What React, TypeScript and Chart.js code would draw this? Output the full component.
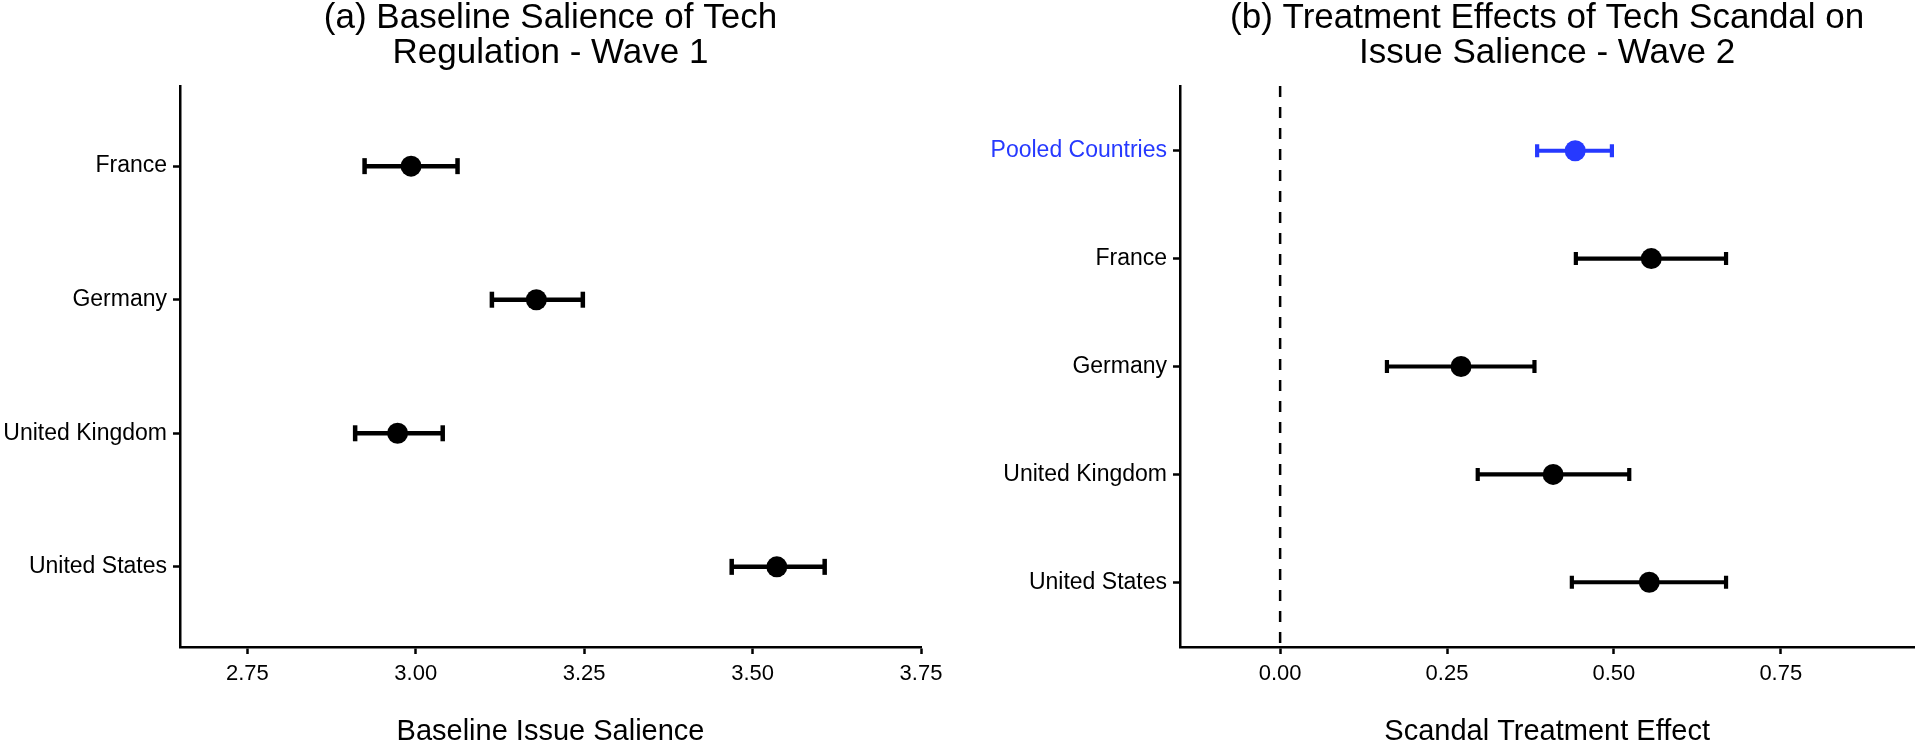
import React, { useEffect, useRef } from "react";
import { Chart, registerables } from "chart.js";

Chart.register(...registerables);

// ---------- Data ----------
const leftTitle = ["(a) Baseline Salience of Tech", "Regulation - Wave 1"];
const leftXTitle = "Baseline Issue Salience";
const leftCategories = ["France", "Germany", "United Kingdom", "United States"];
const leftEstimates = [2.993, 3.179, 2.973, 3.536];
const leftLower = [2.924, 3.113, 2.91, 3.469];
const leftUpper = [3.062, 3.248, 3.04, 3.607];
const leftXTicks = [2.75, 3.0, 3.25, 3.5, 3.75];
const leftXTickLabels = ["2.75", "3.00", "3.25", "3.50", "3.75"];
const leftXLimits = [2.65, 3.75];

const rightTitle = ["(b) Treatment Effects of Tech Scandal on", "Issue Salience - Wave 2"];
const rightXTitle = "Scandal Treatment Effect";
const rightCategories = ["Pooled Countries", "France", "Germany", "United Kingdom", "United States"];
const rightEstimates = [0.442, 0.556, 0.271, 0.409, 0.553];
const rightLower = [0.385, 0.443, 0.16, 0.296, 0.437];
const rightUpper = [0.497, 0.668, 0.381, 0.523, 0.668];
const rightXTicks = [0, 0.25, 0.5, 0.75];
const rightXTickLabels = ["0.00", "0.25", "0.50", "0.75"];
const rightXLimits = [-0.15, 0.95];
const rightHighlight = [true, false, false, false, false];
const referenceLineX = 0;

// ---------- Styles ----------
const BLACK = "#000000";
const BLUE = "#2639FF";
const FONT = "'Liberation Sans', Arial, Helvetica, sans-serif";

type PanelSpec = {
  title: string[];
  xTitle: string;
  categories: string[];
  est: number[];
  lo: number[];
  hi: number[];
  xTicks: number[];
  xTickLabels: string[];
  xLim: number[];
  highlight: boolean[];
  refLine: number | null;
  yAxisWidth: number;
  padRight: number;
  capRadius: number;
  barWidth: number;
  pointRadius: number;
};

function makeConfig(p: PanelSpec): any {
  const n = p.categories.length;
  const yMin = -0.6;
  const yMax = n - 1 + 0.6;
  const colorOf = (i: number) => (p.highlight[i] ? BLUE : BLACK);

  const datasets: any[] = [];
  // points on top
  datasets.push({
    type: "scatter",
    data: p.est.map((x, i) => ({ x, y: i })),
    pointRadius: p.pointRadius,
    pointHoverRadius: p.pointRadius,
    pointBackgroundColor: p.est.map((_, i) => colorOf(i)),
    pointBorderColor: p.est.map((_, i) => colorOf(i)),
    pointBorderWidth: 0,
    order: 0,
  });
  // error bars
  p.est.forEach((_, i) => {
    datasets.push({
      type: "scatter",
      data: [
        { x: p.lo[i], y: i },
        { x: p.hi[i], y: i },
      ],
      showLine: true,
      borderColor: colorOf(i),
      borderWidth: p.barWidth,
      pointStyle: "line",
      rotation: 90,
      pointRadius: p.capRadius,
      pointHoverRadius: p.capRadius,
      pointBorderColor: colorOf(i),
      pointBorderWidth: p.barWidth,
      order: 1,
    });
  });
  if (p.refLine !== null) {
    datasets.push({
      type: "scatter",
      data: [
        { x: p.refLine, y: yMin },
        { x: p.refLine, y: yMax },
      ],
      showLine: true,
      borderColor: BLACK,
      borderWidth: 2.5,
      borderDash: [11, 10],
      pointRadius: 0,
      order: 2,
    });
  }

  return {
    type: "scatter",
    data: { datasets },
    options: {
      animation: false,
      responsive: false,
      events: [],
      layout: { padding: { left: 0, right: p.padRight, top: 0, bottom: 0 } },
      plugins: {
        legend: { display: false },
        tooltip: { enabled: false },
        title: {
          display: true,
          text: p.title,
          fullSize: false,
          color: BLACK,
          font: { family: FONT, size: 35, weight: "normal", lineHeight: 35 / 35 },
          padding: { top: 0.5, bottom: 15.5 },
        },
      },
      scales: {
        x: {
          type: "linear",
          min: p.xLim[0],
          max: p.xLim[1],
          afterBuildTicks: (scale: any) => {
            scale.ticks = p.xTicks.map((v) => ({ value: v }));
          },
          afterFit: (scale: any) => {
            scale.height = 98;
          },
          ticks: {
            autoSkip: false,
            maxRotation: 0,
            padding: 7,
            color: BLACK,
            font: { family: FONT, size: 22 },
            callback: (_v: any, idx: number) => p.xTickLabels[idx],
          },
          grid: {
            display: true,
            drawOnChartArea: false,
            drawTicks: true,
            tickLength: 7,
            tickWidth: 2.5,
            tickColor: BLACK,
          },
          border: { display: true, color: BLACK, width: 2.5 },
          title: {
            display: true,
            text: p.xTitle,
            color: BLACK,
            font: { family: FONT, size: 29, lineHeight: 0.8 },
            padding: { top: 0, bottom: 1 },
          },
        },
        y: {
          type: "linear",
          reverse: true,
          min: yMin,
          max: yMax,
          afterBuildTicks: (scale: any) => {
            scale.ticks = p.categories.map((_, i) => ({ value: i }));
          },
          afterFit: (scale: any) => {
            scale.width = p.yAxisWidth;
          },
          ticks: {
            autoSkip: false,
            padding: 6,
            color: (ctx: any) => colorOf(ctx.index),
            font: { family: FONT, size: 23 },
            callback: (_v: any, idx: number) => p.categories[idx],
          },
          grid: {
            display: true,
            drawOnChartArea: false,
            drawTicks: true,
            tickLength: 7,
            tickWidth: 2.5,
            tickColor: BLACK,
          },
          border: { display: true, color: BLACK, width: 2.5 },
        },
      },
    },
  };
}

function Panel({ spec, left, width }: { spec: PanelSpec; left: number; width: number }) {
  const ref = useRef<HTMLCanvasElement | null>(null);
  useEffect(() => {
    if (!ref.current) return;
    const chart = new Chart(ref.current, makeConfig(spec));
    return () => chart.destroy();
  }, [spec]);
  return (
    <canvas
      ref={ref}
      width={width}
      height={745}
      style={{ position: "absolute", left, top: 0, width, height: 745 }}
    />
  );
}

const leftSpec: PanelSpec = {
  title: leftTitle,
  xTitle: leftXTitle,
  categories: leftCategories,
  est: leftEstimates,
  lo: leftLower,
  hi: leftUpper,
  xTicks: leftXTicks,
  xTickLabels: leftXTickLabels,
  xLim: leftXLimits,
  highlight: leftCategories.map(() => false),
  refLine: null,
  yAxisWidth: 180,
  padRight: 39,
  capRadius: 8,
  barWidth: 4.5,
  pointRadius: 10.5,
};

const rightSpec: PanelSpec = {
  title: rightTitle,
  xTitle: rightXTitle,
  categories: rightCategories,
  est: rightEstimates,
  lo: rightLower,
  hi: rightUpper,
  xTicks: rightXTicks,
  xTickLabels: rightXTickLabels,
  xLim: rightXLimits,
  highlight: rightHighlight,
  refLine: referenceLineX,
  yAxisWidth: 220,
  padRight: 5,
  capRadius: 6.5,
  barWidth: 4.2,
  pointRadius: 10.5,
};

export default function App() {
  return (
    <div
      style={{
        position: "absolute",
        left: 0,
        top: 0,
        width: 1925,
        height: 745,
        background: "#ffffff",
        overflow: "hidden",
      }}
    >
      <Panel spec={leftSpec} left={0} width={960} />
      <Panel spec={rightSpec} left={960} width={965} />
    </div>
  );
}
